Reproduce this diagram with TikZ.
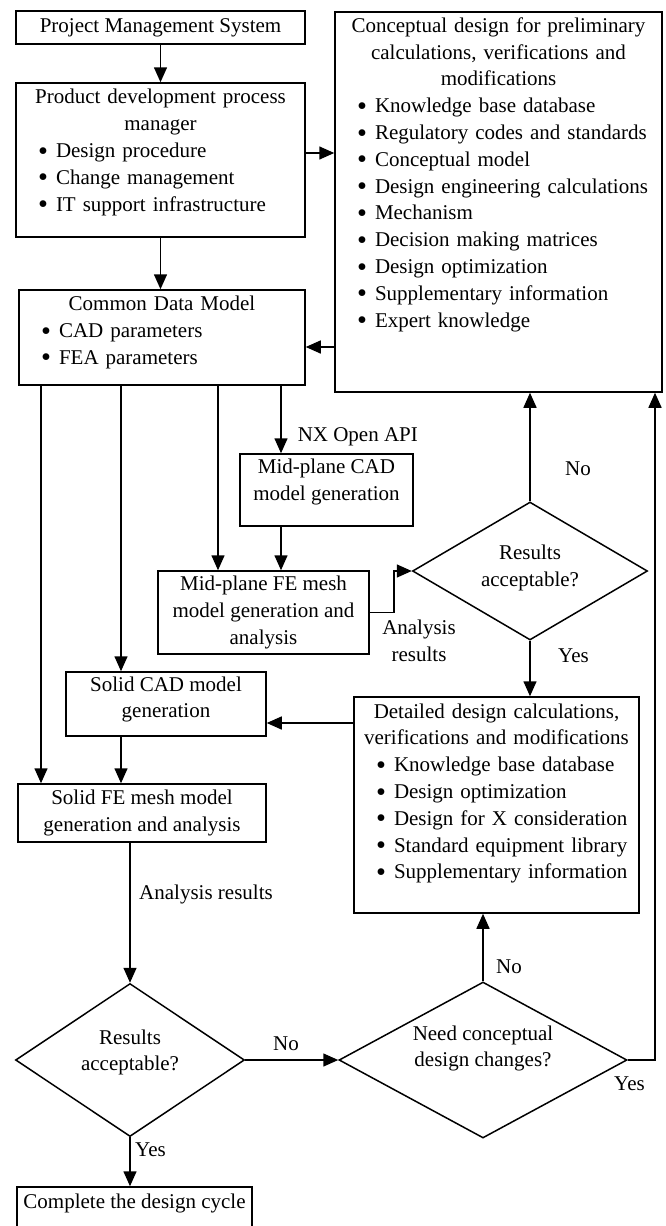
\documentclass[tikz,border=0pt]{standalone}
\usepackage{fontspec}
\setmainfont{Liberation Serif}
\usetikzlibrary{shapes.geometric,arrows.meta,calc}
\newcommand\bitem{\makebox[40pt][l]{\hspace{22pt}\raisebox{-2.6pt}{\scalebox{1.35}{\textbullet}}}}
\newcommand\ctrline[2]{\makebox[#1][c]{#2}}
\begin{document}
\begin{tikzpicture}[x=1pt,y=-1pt,
  every node/.style={font=\fontsize{21}{26.8}\selectfont, inner sep=0pt},
  box/.style={draw, line width=1.5pt, rectangle},
  dia/.style={draw, line width=1.5pt, diamond},
  arr/.style={line width=1.5pt, -{Triangle[length=15pt,width=13pt]}},
  ln/.style={line width=1.5pt},
  txt/.style={align=center},
  lst/.style={align=left}]
\useasboundingbox (0,0) rectangle (665,1226);

% ---- boxes ----
\node[box, minimum width=289, minimum height=33] (pms) at (160.5,27.5) {Project Management System};

\node[box, minimum width=289, minimum height=154] (pdp) at (160.5,160) {};
\node[lst, text width=289] (pdpt) at (160.5,152.5) {%
\ctrline{289pt}{Product development process}\\
\ctrline{289pt}{manager}\\
\bitem Design procedure\\
\bitem Change management\\
\bitem IT support infrastructure};

\node[box, minimum width=286, minimum height=95] (cdm) at (162,337.5) {};
\node[lst, text width=286] (cdmt) at (162,332.5) {%
\ctrline{286pt}{Common Data Model}\\
\bitem CAD parameters\\
\bitem FEA parameters};

\node[box, minimum width=327, minimum height=380] (con) at (498.5,202) {};
\node[lst, text width=327] (cont) at (498.5,174.5) {%
\ctrline{327pt}{Conceptual design for preliminary}\\
\ctrline{327pt}{calculations, verifications and}\\
\ctrline{327pt}{modifications}\\
\bitem Knowledge base database\\
\bitem Regulatory codes and standards\\
\bitem Conceptual model\\
\bitem Design engineering calculations\\
\bitem Mechanism\\
\bitem Decision making matrices\\
\bitem Design optimization\\
\bitem Supplementary information\\
\bitem Expert knowledge};

\node[box, minimum width=173, minimum height=72] (mcad) at (326.5,490) {};
\node[txt] (mcadt) at (326.5,482) {Mid-plane CAD\\model generation};

\node[box, minimum width=211, minimum height=83, txt] (mfe) at (263.5,612.5) {Mid-plane FE mesh\\model generation and\\analysis};

\node[dia, minimum width=235, minimum height=138, aspect=1.7] (d1) at (530,571) {};
\node[txt] (d1t) at (530,568) {Results\\acceptable?};

\node[box, minimum width=285, minimum height=216] (det) at (496.5,805) {};
\node[lst, text width=285] (dett) at (496.5,793.5) {%
\ctrline{285pt}{Detailed design calculations,}\\
\ctrline{285pt}{verifications and modifications}\\
\bitem Knowledge base database\\
\bitem Design optimization\\
\bitem Design for X consideration\\
\bitem Standard equipment library\\
\bitem Supplementary information};

\node[box, minimum width=200, minimum height=64] (scad) at (166,704) {};
\node[txt] (scadt) at (166,699.5) {Solid CAD model\\generation};

\node[box, minimum width=248, minimum height=58, txt] (sfe) at (142,813) {Solid FE mesh model\\generation and analysis};

\node[dia, minimum width=229, minimum height=153, aspect=1.5] (d2) at (130,1060) {};
\node[txt] (d2t) at (130,1052.5) {Results\\acceptable?};

\node[dia, minimum width=288, minimum height=156, aspect=1.85] (d3) at (483,1060) {};
\node[txt] (d3t) at (483,1048.5) {Need conceptual\\design changes?};

\node[box, minimum width=235, minimum height=43] (fin) at (134.5,1208.5) {};
\node (fint) at (134.5,1203) {Complete the design cycle};

% ---- helper coordinates ----
\coordinate (xa) at (41,0);
\coordinate (xb) at (121,0);
\coordinate (xc) at (218,0);
\coordinate (xd) at (281,0);
\coordinate (xe) at (394,0);
\coordinate (xf) at (655,0);
\coordinate (yp) at (0,153);
\coordinate (yc) at (0,347);
\coordinate (yd) at (0,723);

% ---- connectors ----
\draw[arr] (pms.south) -- (pms.south |- pdp.north);
\draw[arr] (pdp.east |- yp) -- (con.west |- yp);
\draw[arr] (pdp.south) -- (pdp.south |- cdm.north);
\draw[arr] (con.west |- yc) -- (cdm.east |- yc);

\draw[arr] (xa |- cdm.south) -- (xa |- sfe.north);
\draw[arr] (xb |- cdm.south) -- (xb |- scad.north);
\draw[arr] (xc |- cdm.south) -- (xc |- mfe.north);
\draw[arr] (xd |- cdm.south) -- (xd |- mcad.north)
  node[pos=0.76, anchor=west, xshift=16pt] (nx) {NX Open API};
\draw[arr] (xd |- mcad.south) -- (xd |- mfe.north);

\draw[arr] (mfe.east) -- (mfe.east -| xe) -- (xe |- d1.west) -- (d1.west);
\node[txt] (ar1) at (419,641) {Analysis\\results};

\draw[arr] (d1.north) -- (d1.north |- con.south);
\node (no1) at (578,469) {No};
\draw[arr] (d1.south) -- (d1.south |- det.north);
\node (yes1) at (573.5,656) {Yes};

\draw[arr] (det.west |- yd) -- (scad.east |- yd);
\draw[arr] (xb |- scad.south) -- (xb |- sfe.north);

\draw[arr] (d2.north |- sfe.south) -- (d2.north);
\node[anchor=west] (ar2) at (139,894) {Analysis results};

\draw[arr] (d2.south) -- (d2.south |- fin.north);
\node[anchor=west] (yes2) at (135,1150) {Yes};

\draw[arr] (d2.east) -- (d3.west);
\node (no2) at (286,1044) {No};

\draw[arr] (d3.north) -- (d3.north |- det.south);
\node[anchor=west] (no3) at (496,967) {No};

\draw[arr] (d3.east) -- (d3.east -| xf) -- (xf |- con.south);
\node (yes3) at (629.5,1084) {Yes};
\end{tikzpicture}
\end{document}
